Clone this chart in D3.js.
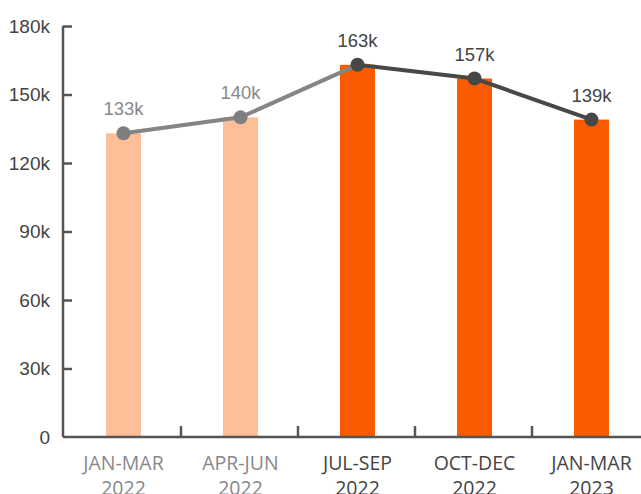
<!DOCTYPE html>
<html>
<head>
<meta charset="utf-8">
<script src="https://cdnjs.cloudflare.com/ajax/libs/d3/7.8.5/d3.min.js"></script>
<style>
  body { margin: 0; background: #fff; }
</style>
</head>
<body>
<script>
var quarters = ["JAN-MAR", "APR-JUN", "JUL-SEP", "OCT-DEC", "JAN-MAR"];
var years = ["2022", "2022", "2022", "2022", "2023"];
var values = [133, 140, 163, 157, 139];
var isPast = [true, true, false, false, false];
var yTicks = [0, 30, 60, 90, 120, 150, 180];

var width = 641, height = 494;
var axisLeft = 63, axisTop = 26, axisBottom = 437;

var svg = d3.select("body")
            .append("svg")
            .attr("width", width)
            .attr("height", height);

var x = d3.scaleBand()
          .domain(d3.range(values.length))
          .range([65, 650]);

var y = d3.scaleLinear()
          .domain([0, 180])
          .range([axisBottom, axisTop]);

var barWidth = 35;

// bars
svg.selectAll("rect")
   .data(values)
   .enter()
   .append("rect")
   .attr("x", function(d, i) { return x(i) + x.bandwidth() / 2 - barWidth / 2; })
   .attr("y", function(d) { return y(d); })
   .attr("width", barWidth)
   .attr("height", function(d) { return axisBottom - y(d); })
   .attr("fill", function(d, i) { return isPast[i] ? "#fdbe98" : "#fa5b00"; });

// y axis
var yAxis = svg.append("g")
   .attr("transform", "translate(" + axisLeft + ",0)")
   .call(d3.axisLeft(y).tickValues(yTicks).tickSize(-9).tickPadding(13)
           .tickFormat(function(d) { return d === 0 ? "0" : d + "k"; }));
yAxis.select(".domain").attr("stroke", "#555").attr("stroke-width", 2.5)
     .attr("d", "M0," + axisTop + "V" + axisBottom);
yAxis.selectAll(".tick line").attr("stroke", "#555").attr("stroke-width", 2.5);
yAxis.selectAll(".tick line").filter(function(d) { return d === 0; }).remove();
yAxis.selectAll("text")
     .attr("font-family", "Liberation Sans, Arial, sans-serif")
     .attr("font-size", "19px")
     .attr("fill", "#444");

// x axis with ticks between categories
svg.append("line")
   .attr("x1", axisLeft).attr("x2", width)
   .attr("y1", axisBottom).attr("y2", axisBottom)
   .attr("stroke", "#555").attr("stroke-width", 2.5);

svg.selectAll(".sep")
   .data(d3.range(1, values.length))
   .enter()
   .append("line")
   .attr("class", "sep")
   .attr("x1", function(i) { return x(i) - 1; })
   .attr("x2", function(i) { return x(i) - 1; })
   .attr("y1", axisBottom)
   .attr("y2", axisBottom - 11)
   .attr("stroke", "#555").attr("stroke-width", 2.5);

var xl = svg.selectAll(".xlabel")
   .data(quarters)
   .enter()
   .append("text")
   .attr("class", "xlabel")
   .attr("text-anchor", "middle")
   .attr("font-family", "Open Sans, sans-serif")
   .attr("font-size", "19.5px")
   .attr("fill", function(d, i) { return isPast[i] ? "#888" : "#444"; });
xl.append("tspan")
  .attr("x", function(d, i) { return x(i) + x.bandwidth() / 2; })
  .attr("y", 470)
  .text(function(d) { return d; });
xl.append("tspan")
  .attr("x", function(d, i) { return x(i) + x.bandwidth() / 2; })
  .attr("y", 495)
  .text(function(d, i) { return years[i]; });

// line
var cx = function(i) { return x(i) + x.bandwidth() / 2; };
var line = d3.line()
             .x(function(d) { return cx(d); })
             .y(function(d) { return y(values[d]); });

svg.append("path")
   .attr("d", line([0, 1, 2]))
   .attr("fill", "none")
   .attr("stroke", "#858585")
   .attr("stroke-width", 4);
svg.append("path")
   .attr("d", line([2, 3, 4]))
   .attr("fill", "none")
   .attr("stroke", "#484848")
   .attr("stroke-width", 4);

svg.selectAll("circle")
   .data(values)
   .enter()
   .append("circle")
   .attr("cx", function(d, i) { return cx(i); })
   .attr("cy", function(d) { return y(d); })
   .attr("r", 7)
   .attr("fill", function(d, i) { return isPast[i] ? "#7f7f7f" : "#474747"; });

svg.selectAll(".vlabel")
   .data(values)
   .enter()
   .append("text")
   .attr("class", "vlabel")
   .text(function(d) { return d + "k"; })
   .attr("x", function(d, i) { return cx(i); })
   .attr("y", function(d) { return y(d) - 18; })
   .attr("text-anchor", "middle")
   .attr("font-family", "Liberation Sans, Arial, sans-serif")
   .attr("font-size", "18.5px")
   .attr("fill", function(d, i) { return isPast[i] ? "#888" : "#444"; });
</script>
</body>
</html>
